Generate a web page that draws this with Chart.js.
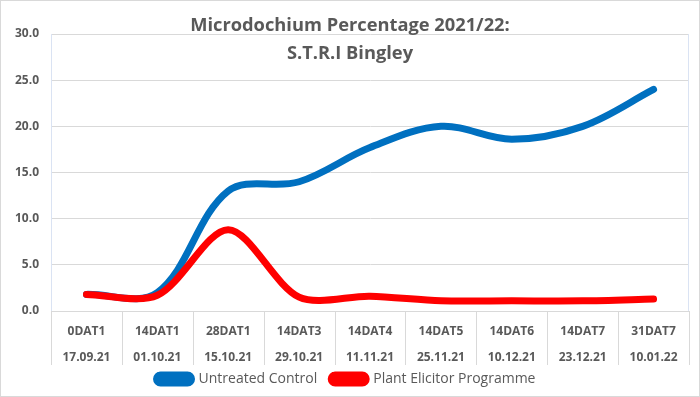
<!DOCTYPE html>
<html>
<head>
<meta charset="utf-8">
<script src="https://cdn.jsdelivr.net/npm/chart.js@4/dist/chart.umd.min.js"></script>
<style>
  html, body { margin: 0; padding: 0; background: #fff; }
  #wrap { position: relative; width: 700px; height: 397px; box-sizing: border-box; border: 1px solid #d9d9d9; }
  canvas { display: block; }
</style>
</head>
<body>
<div id="wrap"><canvas id="c" width="698" height="395"></canvas></div>
<script>
const titleLines = ['Microdochium Percentage 2021/22:', 'S.T.R.I Bingley'];
const categories = ['0DAT1', '14DAT1', '28DAT1', '14DAT3', '14DAT4', '14DAT5', '14DAT6', '14DAT7', '31DAT7'];
const dates = ['17.09.21', '01.10.21', '15.10.21', '29.10.21', '11.11.21', '25.11.21', '10.12.21', '23.12.21', '10.01.22'];
const untreatedControl = [1.8, 2.0, 13.0, 14.0, 17.7, 20.0, 18.6, 20.0, 24.0];
const plantElicitor = [1.8, 1.7, 8.8, 1.5, 1.6, 1.1, 1.1, 1.1, 1.3];
const seriesNames = ['Untreated Control', 'Plant Elicitor Programme'];
const seriesColors = ['#0070C0', '#FF0000'];

const FONT = '"Open Sans", "Noto Sans", sans-serif';
const GREY = '#595959';

const titlePlugin = {
  id: 'twoLineTitle',
  afterDraw(chart) {
    const ctx = chart.ctx;
    ctx.save();
    ctx.fillStyle = GREY;
    ctx.font = 'bold 18.3px ' + FONT;
    ctx.textAlign = 'center';
    ctx.textBaseline = 'middle';
    ctx.fillText(titleLines[0], 349, 25);
    ctx.fillText(titleLines[1], 349, 53);
    ctx.restore();
  }
};

// let the two-row category labels extend under the legend box without being clipped
const labelRoomPlugin = {
  id: 'labelRoom',
  afterLayout(chart) {
    const xs = chart.scales.x;
    xs.bottom = xs.top + 60;
  }
};

// vertical separators between category labels, below the plot area, and plot right edge
const separatorPlugin = {
  id: 'catSeparators',
  afterDraw(chart) {
    const xs = chart.scales.x;
    const ca = chart.chartArea;
    const ctx = chart.ctx;
    ctx.save();
    ctx.lineWidth = 1;
    ctx.strokeStyle = '#dae3f3';
    ctx.beginPath();
    ctx.moveTo(Math.round(ca.right) - 0.5, ca.top);
    ctx.lineTo(Math.round(ca.right) - 0.5, ca.bottom);
    ctx.stroke();
    ctx.strokeStyle = '#d9d9d9';
    for (let i = 0; i <= categories.length; i++) {
      const x = Math.round(xs.getPixelForValue(i - 0.5)) + 0.5;
      ctx.beginPath();
      ctx.moveTo(x, xs.top);
      ctx.lineTo(x, xs.top + 54);
      ctx.stroke();
    }
    ctx.restore();
  }
};

new Chart(document.getElementById('c'), {
  type: 'line',
  data: {
    labels: categories.map((c, i) => [c, dates[i]]),
    datasets: [
      {
        label: seriesNames[0],
        data: untreatedControl,
        borderColor: seriesColors[0],
        backgroundColor: seriesColors[0],
        borderWidth: 7,
        tension: 0.35,
        pointRadius: 0,
        borderCapStyle: 'round',
        order: 1
      },
      {
        label: seriesNames[1],
        data: plantElicitor,
        borderColor: seriesColors[1],
        backgroundColor: seriesColors[1],
        borderWidth: 7,
        tension: 0.3,
        pointRadius: 0,
        borderCapStyle: 'round',
        order: 0
      }
    ]
  },
  options: {
    responsive: false,
    animation: false,
    layout: { padding: { top: 33, left: 2, right: 10, bottom: 0 } },
    plugins: {
      title: { display: false },
      tooltip: { enabled: false },
      legend: {
        display: true,
        position: 'bottom',
        maxHeight: 39,
        labels: {
          sort: (a, b) => a.datasetIndex - b.datasetIndex,
          boxWidth: 35,
          boxHeight: 8,
          useBorderRadius: true,
          borderRadius: 4,
          padding: 14,
          color: GREY,
          font: { family: FONT, size: 14 }
        }
      }
    },
    scales: {
      x: {
        offset: true,
        afterFit: s => { s.height = 47; },
        grid: { display: false, drawTicks: false },
        border: { color: '#d9d9d9' },
        ticks: {
          padding: 8,
          maxRotation: 0,
          autoSkip: false,
          color: GREY,
          font: { family: FONT, size: 12, weight: 'bold', lineHeight: 2.17 }
        }
      },
      y: {
        min: 0,
        max: 30,
        ticks: {
          stepSize: 5,
          padding: 12,
          color: GREY,
          font: { family: FONT, size: 12, weight: 'bold' },
          callback: v => Number(v).toFixed(1)
        },
        grid: { color: '#d9d9d9', drawTicks: false },
        border: { color: '#dae3f3' }
      }
    }
  },
  plugins: [titlePlugin, labelRoomPlugin, separatorPlugin]
});
</script>
</body>
</html>
